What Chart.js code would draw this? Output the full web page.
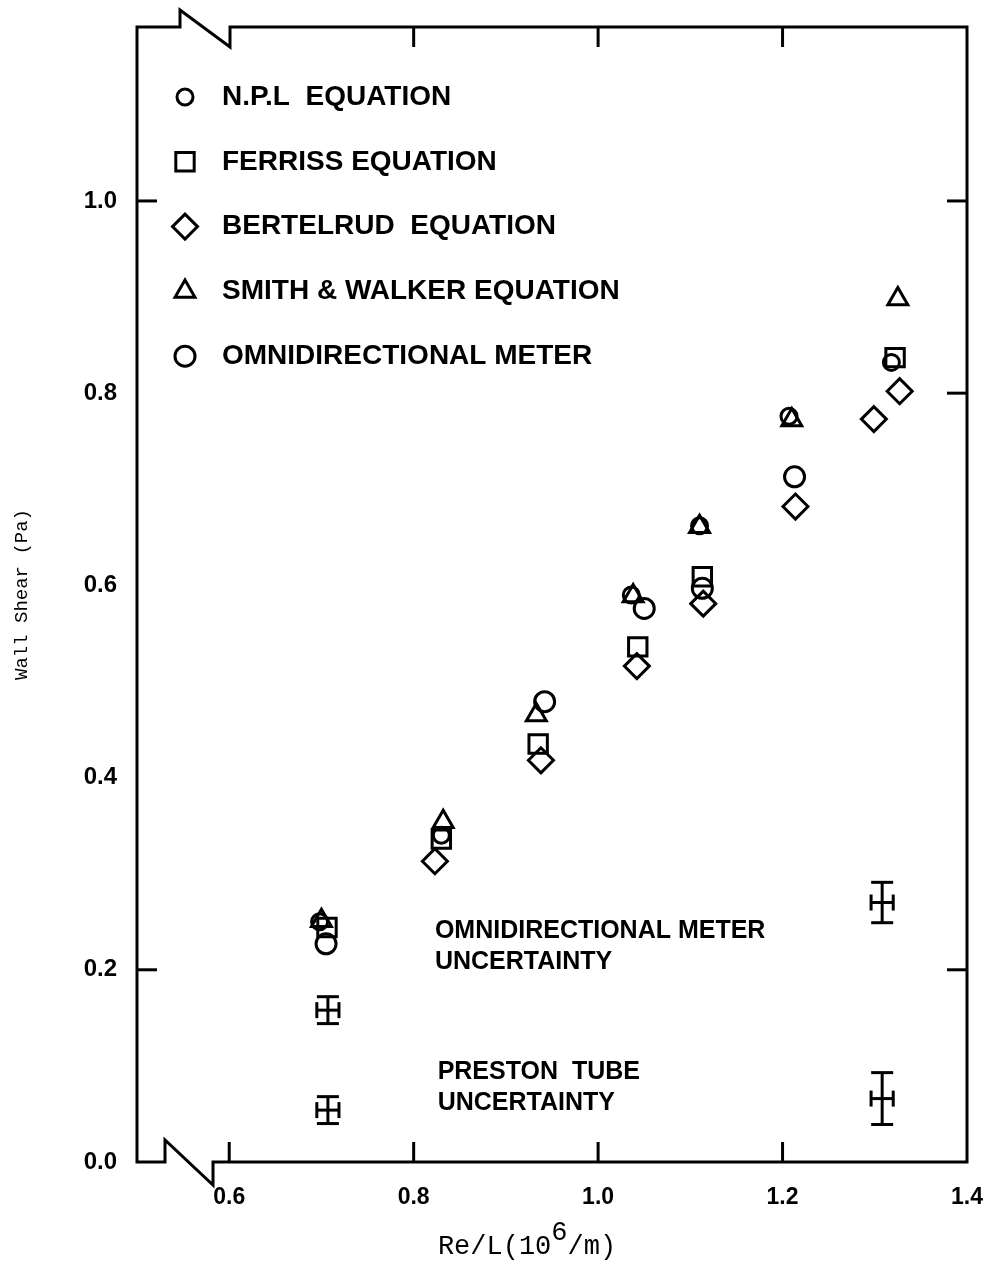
<!DOCTYPE html>
<html>
<head>
<meta charset="utf-8">
<script src="https://cdn.jsdelivr.net/npm/chart.js@4.4.0/dist/chart.umd.min.js"></script>
<style>
  html, body { margin: 0; padding: 0; background: #fff; }
  canvas { display: block; }
</style>
</head>
<body>
<canvas id="chart" width="990" height="1270"></canvas>
<script>
// tick labels
const xTickValues = [0.6, 0.8, 1.0, 1.2, 1.4];
const yTickValues = [0.0, 0.2, 0.4, 0.6, 0.8, 1.0];
// inward tick marks still visible on each side of the frame
const topMarks = [0.8, 1.0, 1.2];
const bottomMarks = [0.6, 0.8, 1.0, 1.2];
const leftMarks = [0.2, 1.0];
const rightMarks = [0.2, 0.8, 1.0];

// Re/L (10^6/m) vs wall shear (Pa)
const nplX = [0.698, 0.830, 1.036, 1.110, 1.207, 1.318];
const nplY = [0.250, 0.340, 0.590, 0.662, 0.776, 0.832];
const ferrissX = [0.706, 0.830, 0.935, 1.043, 1.113, 1.322];
const ferrissY = [0.244, 0.336, 0.435, 0.536, 0.609, 0.837];
const bertelrudX = [0.823, 0.938, 1.042, 1.114, 1.214, 1.299, 1.327];
const bertelrudY = [0.313, 0.418, 0.516, 0.581, 0.682, 0.773, 0.802];
const smithX = [0.700, 0.832, 0.933, 1.038, 1.110, 1.210, 1.325];
const smithY = [0.251, 0.354, 0.465, 0.589, 0.661, 0.772, 0.898];
const omniX = [0.705, 0.942, 1.050, 1.113, 1.213];
const omniY = [0.227, 0.479, 0.576, 0.597, 0.713];

const seriesLabels = ['N.P.L  EQUATION', 'FERRISS EQUATION', 'BERTELRUD  EQUATION',
                      'SMITH & WALKER EQUATION', 'OMNIDIRECTIONAL METER'];

// uncertainty bars: centre and half widths
const errX = [0.707, 0.707, 1.308, 1.308];
const errY = [0.158, 0.054, 0.270, 0.066];
const errXHalf = [0.012, 0.012, 0.012, 0.012];
const errYHalf = [0.014, 0.014, 0.021, 0.027];

const omniNote = ['OMNIDIRECTIONAL METER', 'UNCERTAINTY'];
const prestonNote = ['PRESTON  TUBE', 'UNCERTAINTY'];

const toPoints = (xs, ys) => xs.map((x, i) => ({ x: x, y: ys[i] }));

function series(label, xs, ys, style, radius) {
    return {
        label: label,
        data: toPoints(xs, ys),
        pointStyle: style,
        pointRadius: radius,
        pointBorderWidth: 3,
        pointBorderColor: '#000',
        pointBackgroundColor: 'rgba(0,0,0,0)',
        showLine: false,
        clip: false
    };
}

function line(ctx, x0, y0, x1, y1) {
    ctx.beginPath();
    ctx.moveTo(x0, y0);
    ctx.lineTo(x1, y1);
    ctx.stroke();
}

// frame with axis breaks and the inward ticks
const framePlugin = {
    id: 'frame',
    afterDatasetsDraw(chart) {
        const { ctx, chartArea: a } = chart;
        const xs = chart.scales.x, ys = chart.scales.y;
        ctx.save();
        ctx.strokeStyle = '#000';
        ctx.lineWidth = 3;
        ctx.beginPath();
        ctx.moveTo(a.left, a.bottom);
        ctx.lineTo(a.left, a.top);
        ctx.lineTo(a.left + 43, a.top);
        ctx.lineTo(a.left + 43, a.top - 17);
        ctx.lineTo(a.left + 93, a.top + 20);
        ctx.lineTo(a.left + 93, a.top);
        ctx.lineTo(a.right, a.top);
        ctx.lineTo(a.right, a.bottom);
        ctx.lineTo(a.left + 76, a.bottom);
        ctx.lineTo(a.left + 76, a.bottom + 23);
        ctx.lineTo(a.left + 28, a.bottom - 22);
        ctx.lineTo(a.left + 28, a.bottom);
        ctx.closePath();
        ctx.stroke();

        const len = 20;
        topMarks.forEach(v => { const p = xs.getPixelForValue(v); line(ctx, p, a.top, p, a.top + len); });
        bottomMarks.forEach(v => { const p = xs.getPixelForValue(v); line(ctx, p, a.bottom, p, a.bottom - len); });
        leftMarks.forEach(v => { const p = ys.getPixelForValue(v); line(ctx, a.left, p, a.left + len, p); });
        rightMarks.forEach(v => { const p = ys.getPixelForValue(v); line(ctx, a.right, p, a.right - len, p); });
        ctx.restore();
    }
};

const errorBarPlugin = {
    id: 'errorBars',
    afterDatasetsDraw(chart) {
        const { ctx } = chart;
        const xs = chart.scales.x, ys = chart.scales.y;
        ctx.save();
        ctx.strokeStyle = '#000';
        ctx.lineWidth = 3;
        errX.forEach((xv, i) => {
            const cx = xs.getPixelForValue(xv);
            const cy = ys.getPixelForValue(errY[i]);
            const x0 = xs.getPixelForValue(xv - errXHalf[i]);
            const x1 = xs.getPixelForValue(xv + errXHalf[i]);
            const y0 = ys.getPixelForValue(errY[i] + errYHalf[i]);
            const y1 = ys.getPixelForValue(errY[i] - errYHalf[i]);
            line(ctx, cx, y0, cx, y1);
            line(ctx, cx - 11, y0, cx + 11, y0);
            line(ctx, cx - 11, y1, cx + 11, y1);
            line(ctx, x0, cy, x1, cy);
            line(ctx, x0, cy - 8, x0, cy + 8);
            line(ctx, x1, cy - 8, x1, cy + 8);
        });
        ctx.restore();
    }
};

// legend inside the plot, notes and the x axis title
const textPlugin = {
    id: 'texts',
    afterDraw(chart) {
        const { ctx, chartArea: a } = chart;
        const xs = chart.scales.x, ys = chart.scales.y;
        ctx.save();

        chart.data.datasets.forEach((ds, i) => {
            const y = a.top + 70 + i * 64.8;
            ctx.strokeStyle = '#000';
            ctx.fillStyle = 'rgba(0,0,0,0)';
            ctx.lineWidth = 3;
            Chart.helpers.drawPoint(ctx, {
                pointStyle: ds.pointStyle,
                radius: ds.pointRadius,
                borderWidth: 3,
                rotation: 0
            }, a.left + 48, y);
            ctx.fillStyle = '#000';
            ctx.font = 'bold 28px "Liberation Sans", Arial, sans-serif';
            ctx.textBaseline = 'middle';
            ctx.textAlign = 'left';
            ctx.fillText(ds.label, a.left + 85, y);
        });

        ctx.font = 'bold 25px "Liberation Sans", Arial, sans-serif';
        ctx.fillStyle = '#000';
        ctx.textBaseline = 'middle';
        const ox = xs.getPixelForValue(0.823), oy = ys.getPixelForValue(0.240);
        omniNote.forEach((t, i) => ctx.fillText(t, ox, oy + i * 31));
        const px = xs.getPixelForValue(0.826), py = ys.getPixelForValue(0.094);
        prestonNote.forEach((t, i) => ctx.fillText(t, px, py + i * 31));

        // x title with a raised exponent
        ctx.font = '27px "Liberation Mono", "DejaVu Sans Mono", monospace';
        ctx.textBaseline = 'alphabetic';
        const parts = ['Re/L(10', '6', '/m)'];
        const w0 = ctx.measureText(parts[0]).width;
        const w1 = ctx.measureText(parts[1]).width;
        const w2 = ctx.measureText(parts[2]).width;
        let tx = 527 - (w0 + w1 + w2) / 2;
        const base = 1254;
        ctx.fillText(parts[0], tx, base);
        tx += w0;
        ctx.fillText(parts[1], tx, base - 14);
        tx += w1;
        ctx.fillText(parts[2], tx, base);
        ctx.restore();
    }
};

new Chart(document.getElementById('chart'), {
    type: 'scatter',
    data: {
        datasets: [
            series(seriesLabels[0], nplX, nplY, 'circle', 8),
            series(seriesLabels[1], ferrissX, ferrissY, 'rect', 13),
            series(seriesLabels[2], bertelrudX, bertelrudY, 'rectRot', 12.5),
            series(seriesLabels[3], smithX, smithY, 'triangle', 11.5),
            series(seriesLabels[4], omniX, omniY, 'circle', 10)
        ]
    },
    options: {
        responsive: false,
        animation: false,
        events: [],
        layout: { padding: { top: 27, right: 23, left: 0, bottom: 0 } },
        plugins: {
            legend: { display: false },
            tooltip: { enabled: false }
        },
        scales: {
            x: {
                type: 'linear',
                min: 0.5,
                max: 1.4,
                afterBuildTicks: scale => { scale.ticks = xTickValues.map(v => ({ value: v })); },
                afterFit: scale => {
                    scale.height = 108;
                    scale.paddingLeft = 0;
                    scale.paddingRight = 0;
                },
                grid: { display: false, drawTicks: false },
                border: { display: false },
                ticks: {
                    padding: 22,
                    color: '#000',
                    font: { family: '"Liberation Sans", Arial, sans-serif', size: 23, weight: 'bold' },
                    callback: v => v.toFixed(1)
                }
            },
            y: {
                type: 'linear',
                min: 0,
                max: 1.181,
                afterBuildTicks: scale => { scale.ticks = yTickValues.map(v => ({ value: v })); },
                afterFit: scale => {
                    scale.width = 137;
                    scale.paddingTop = 0;
                    scale.paddingBottom = 0;
                },
                grid: { display: false, drawTicks: false },
                border: { display: false },
                ticks: {
                    padding: 20,
                    color: '#000',
                    font: { family: '"Liberation Sans", Arial, sans-serif', size: 24, weight: 'bold' },
                    callback: v => v.toFixed(1)
                },
                title: {
                    display: true,
                    text: 'Wall Shear (Pa)',
                    color: '#000',
                    font: { family: '"Liberation Mono", "DejaVu Sans Mono", monospace', size: 19 },
                    padding: { top: 11, bottom: 0 }
                }
            }
        }
    },
    plugins: [framePlugin, errorBarPlugin, textPlugin]
});
</script>
</body>
</html>
